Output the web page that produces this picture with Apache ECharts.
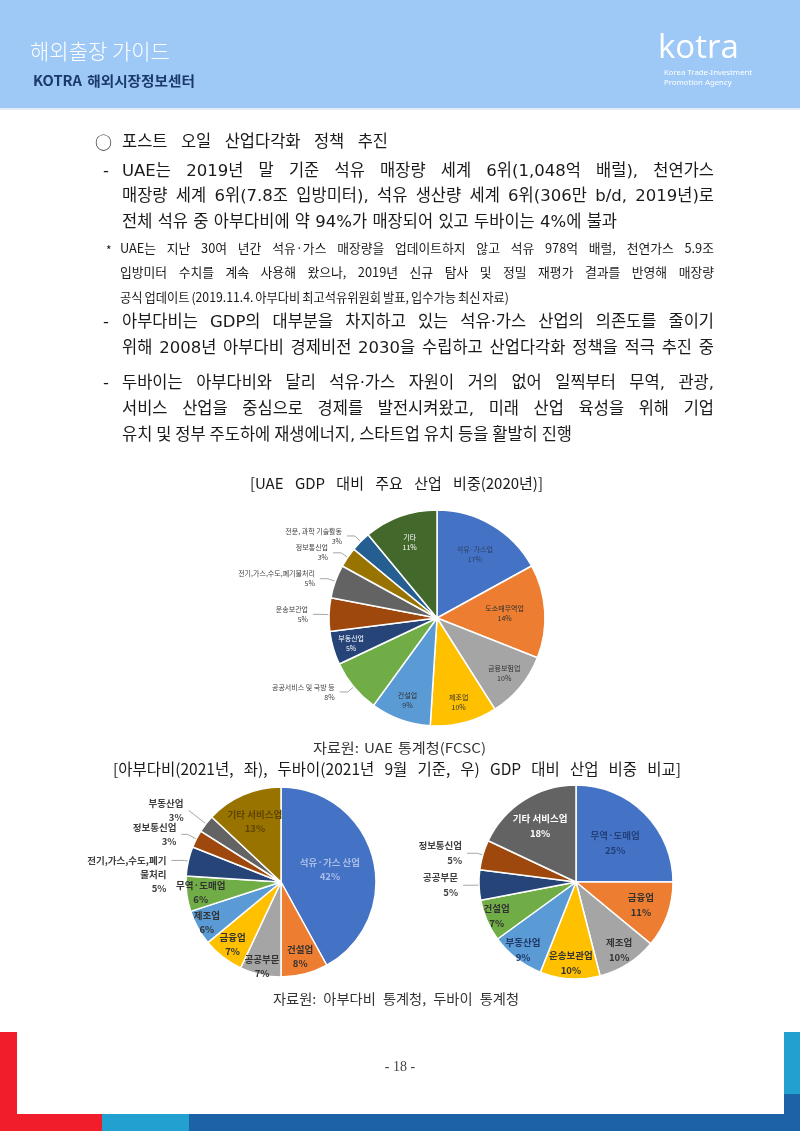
<!DOCTYPE html>
<html><head><meta charset="utf-8">
<script src="https://cdn.jsdelivr.net/npm/echarts@6/dist/echarts.min.js"></script>
<style>html,body{margin:0;padding:0;background:#fff}#c{width:800px;height:1131px}</style>
</head><body><div id="c"></div>
<script>
// ---------- data ----------
const uaeCategories = ['석유·가스업','도소매무역업','금융보험업','제조업','건설업','공공서비스 및 국방 등','부동산업','운송보관업','전기,가스,수도,폐기물처리','정보통신업','전문, 과학 기술활동','기타'];
const uaeShares = [17,14,10,10,9,8,5,5,5,3,3,11];
const abuCategories = ['석유·가스 산업','건설업','공공부문','금융업','제조업','무역·도매업','전기,가스,수도,폐기물처리','정보통신업','부동산업','기타 서비스업'];
const abuShares = [42,8,7,7,6,6,5,3,3,13];
const dubaiCategories = ['무역·도매업','금융업','제조업','운송보관업','부동산업','건설업','공공부문','정보통신업','기타 서비스업'];
const dubaiShares = [25,11,10,10,9,7,5,5,18];

const bodyLines = [
  '포스트 오일 산업다각화 정책 추진',
  'UAE는 2019년 말 기준 석유 매장량 세계 6위(1,048억 배럴), 천연가스',
  '매장량 세계 6위(7.8조 입방미터), 석유 생산량 세계 6위(306만 b/d, 2019년)로',
  '전체 석유 중 아부다비에 약 94%가 매장되어 있고 두바이는 4%에 불과',
  'UAE는 지난 30여 년간 석유·가스 매장량을 업데이트하지 않고 석유 978억 배럴, 천연가스 5.9조',
  '입방미터 수치를 계속 사용해 왔으나, 2019년 신규 탐사 및 정밀 재평가 결과를 반영해 매장량',
  '공식 업데이트 (2019.11.4. 아부다비 최고석유위원회 발표, 입수가능 최신 자료)',
  '아부다비는 GDP의 대부분을 차지하고 있는 석유·가스 산업의 의존도를 줄이기',
  '위해 2008년 아부다비 경제비전 2030을 수립하고 산업다각화 정책을 적극 추진 중',
  '두바이는 아부다비와 달리 석유·가스 자원이 거의 없어 일찍부터 무역, 관광,',
  '서비스 산업을 중심으로 경제를 발전시켜왔고, 미래 산업 육성을 위해 기업',
  '유치 및 정부 주도하에 재생에너지, 스타트업 유치 등을 활발히 진행'
];
const title1 = '[UAE GDP 대비 주요 산업 비중(2020년)]';
const source1 = '자료원: UAE 통계청(FCSC)';
const title2 = '[아부다비(2021년, 좌), 두바이(2021년 9월 기준, 우) GDP 대비 산업 비중 비교]';
const source2 = '자료원: 아부다비 통계청, 두바이 통계청';

// ---------- layout / style ----------
const FF = '"Noto Sans CJK KR","Noto Sans",sans-serif';
const FB = '"DejaVu Sans","Noto Sans CJK KR",sans-serif';
const officeColors = ['#4472C4','#ED7D31','#A5A5A5','#FFC000','#5B9BD5','#70AD47','#264478','#9E480E','#636363','#997300','#255E91','#43682B'];
const mctx = document.createElement('canvas').getContext('2d');
function fontOf(size, opts){ return (opts.weight||'normal') + ' ' + size + 'px ' + (opts.family||FF); }
function measure(t, font){ mctx.font = font; return mctx.measureText(t).width; }
const graphics = [];
function txt(t, x, y, size, opts, sx){
  opts = opts || {};
  graphics.push({type:'text', x:x, y:y, scaleX:sx||1, silent:true, z:10,
    style:{text:t, font:fontOf(size,opts), fill:opts.color||'#1a1a1a', textAlign:opts.align||'left', textVerticalAlign:'middle'}});
}
function fit(t, x0, x1, y, size, opts){
  opts = opts || {};
  const font = fontOf(size, opts);
  const words = t.split(' ');
  const ws = words.map(w => measure(w, font));
  const sum = ws.reduce((a,b)=>a+b,0);
  const sp = measure(' ', font);
  const n = words.length;
  const minG = sp*(opts.minG||0.7), maxG = sp*(opts.maxG||4);
  let gap = n > 1 ? (x1 - x0 - sum)/(n-1) : 0, s = 1;
  if (n > 1 && gap < minG) { gap = minG; s = (x1-x0)/(sum + gap*(n-1)); }
  else if (n > 1 && gap > maxG) { gap = maxG; s = (x1-x0)/(sum + gap*(n-1)); }
  else if (n === 1) { s = (x1-x0)/sum; }
  let x = x0;
  words.forEach((w,i) => { txt(w, x, y, size, opts, s); x += (ws[i] + gap)*s; });
}
function rect(x,y,w,h,color){ graphics.push({type:'rect', silent:true, z:1, shape:{x:x,y:y,width:w,height:h}, style:{fill:color}}); }

// header
rect(0,0,800,108,'#9EC9F7');
rect(0,108,800,2,'#E3ECF5');
txt('해외출장 가이드', 30, 51, 21, {color:'#ffffff', weight:'300'});
fit('KOTRA 해외시장정보센터', 33, 195, 81, 14, {color:'#1B3A6B', weight:'bold', maxG:1.6});
txt('kotra', 658, 49, 33, {color:'#ffffff', family:'"Open Sans","Noto Sans",sans-serif'});
txt('Korea Trade-Investment', 664, 73, 7.8, {color:'#ffffff', family:'"Noto Sans",sans-serif'});
txt('Promotion Agency', 664, 83, 7.8, {color:'#ffffff', family:'"Noto Sans",sans-serif'});

// body text
const BS = 16.5, NS = 12.8;
const bo = {family:FB}, no = {family:FF};
txt('○', 95, 143, 17);
fit(bodyLines[0], 122, 388, 143, BS, bo);
txt('-', 103, 172, BS, bo);
fit(bodyLines[1], 122, 714, 172, BS, bo);
fit(bodyLines[2], 122, 714, 197, BS, bo);
fit(bodyLines[3], 122, 617, 223, BS, bo);
txt('*', 106, 250, 12);
fit(bodyLines[4], 120, 714, 248, NS, no);
fit(bodyLines[5], 120, 714, 272, NS, no);
fit(bodyLines[6], 120, 509, 297, NS, no);
txt('-', 103, 323, BS, bo);
fit(bodyLines[7], 122, 714, 323, BS, bo);
fit(bodyLines[8], 122, 714, 349, BS, bo);
txt('-', 103, 384, BS, bo);
fit(bodyLines[9], 122, 714, 384, BS, bo);
fit(bodyLines[10], 122, 714, 410, BS, bo);
fit(bodyLines[11], 122, 572, 436, BS, bo);

// captions
fit(title1, 250, 543, 483, 15);
fit(source1, 313, 486, 748, 13.5, {color:'#333', maxG:1.5});
fit(title2, 113, 681, 769, 15.5);
fit(source2, 273, 519, 999, 13.5, {color:'#333', maxG:2.2});

// footer
txt('- 18 -', 400, 1067, 14, {align:'center', color:'#444', family:'"Liberation Serif","DejaVu Serif",serif'});
rect(0,1032,17,99,'#F21D2B');
rect(0,1114,102,17,'#F21D2B');
rect(102,1114,87,17,'#22A0D0');
rect(189,1114,611,17,'#1B63A6');
rect(784,1032,16,62,'#22A0D0');
rect(784,1094,16,37,'#1B63A6');

// ---------- pies ----------
// label text shown for a category (line breaks; leading blank lines drop the text below its leader line)
const displayNames = {'전기,가스,수도,폐기물처리@abu':'\n\n전기,가스,수도,폐기\n물처리'};
function buildPie(key, cats, vals, center, r, labelSpec, labelColors, font, lineLens){
  const series = [];
  lineLens = lineLens || {};
  const fmt = p => (displayNames[p.name+'@'+key] || p.name) + '\n' + p.value + '%';
  series.push({
    type:'pie', center:center, radius:[0,r], startAngle:90, clockwise:true,
    avoidLabelOverlap:false, silent:true, animation:false,
    label:{position:'outside', formatter:fmt, fontSize:font.size, fontFamily:FF, fontWeight:font.weight, color:'#404040', lineHeight:font.lh, align:'center'},
    labelLine:{length:font.l1, length2:font.l2, lineStyle:{color:'#a6a6a6', width:1}},
    labelLayout:{hideOverlap:false},
    data:cats.map((c,i) => {
      const out = labelSpec[c] === 'out';
      const ll = {show:out};
      if (lineLens[c]) { ll.length = lineLens[c][0]; ll.length2 = lineLens[c][1]; }
      return {name:c, value:vals[i], itemStyle:{color:officeColors[i], borderColor:'#ffffff', borderWidth:1.5}, label:{show:out}, labelLine:ll};
    })
  });
  // one transparent ring per inside label, so each label sits at the chosen fraction of the radius
  cats.forEach((c,i) => {
    const f = labelSpec[c];
    if (f === 'out') return;
    series.push({
      type:'pie', center:center, radius:[0, r*2*f], startAngle:90, clockwise:true,
      avoidLabelOverlap:false, silent:true, animation:false, z:5,
      labelLayout:{hideOverlap:false},
      label:{position:'inside', formatter:fmt, fontSize:font.size, fontFamily:FF, fontWeight:font.weight, lineHeight:font.lh},
      labelLine:{show:false},
      data:cats.map((c2,j) => ({name:c2, value:vals[j], itemStyle:{color:'rgba(0,0,0,0)', borderWidth:0},
        label:{show:j===i, color:labelColors[c2]||'#333333'}}))
    });
  });
  return series;
}

const uaeLabelSpec = {'석유·가스업':0.66,'도소매무역업':0.6,'금융보험업':0.78,'제조업':0.78,'건설업':0.78,'공공서비스 및 국방 등':'out','부동산업':0.8,'운송보관업':'out','전기,가스,수도,폐기물처리':'out','정보통신업':'out','전문, 과학 기술활동':'out','기타':0.72};
const uaeLabelColors = {'석유·가스업':'#2F3F66','부동산업':'#ffffff','기타':'#ffffff'};
const abuLabelSpec = {'석유·가스 산업':0.5,'건설업':0.78,'공공부문':0.88,'금융업':0.8,'제조업':0.86,'무역·도매업':0.82,'전기,가스,수도,폐기물처리':'out','정보통신업':'out','부동산업':'out','기타 서비스업':0.66};
const abuLabelColors = {'석유·가스 산업':'#A9BDE6','기타 서비스업':'#5E4500'};
const abuLineLens = {'부동산업':[22,0],'정보통신업':[10,6],'전기,가스,수도,폐기물처리':[4,13]};
const dubaiLabelSpec = {'무역·도매업':0.54,'금융업':0.68,'제조업':0.8,'운송보관업':0.8,'부동산업':0.86,'건설업':0.86,'공공부문':'out','정보통신업':'out','기타 서비스업':0.66};
const dubaiLabelColors = {'무역·도매업':'#23407A','부동산업':'#1F3864','기타 서비스업':'#ffffff'};

const series = [].concat(
  buildPie('uae', uaeCategories, uaeShares, [437,618], 108, uaeLabelSpec, uaeLabelColors, {size:7, weight:'normal', lh:10, l1:8, l2:8}),
  buildPie('abu', abuCategories, abuShares, [281,882], 95, abuLabelSpec, abuLabelColors, {size:9.5, weight:'bold', lh:14, l1:6, l2:10}, abuLineLens),
  buildPie('dubai', dubaiCategories, dubaiShares, [576,882], 97, dubaiLabelSpec, dubaiLabelColors, {size:9.5, weight:'bold', lh:15, l1:6, l2:10})
);

const chart = echarts.init(document.getElementById('c'), null, {renderer:'canvas', width:800, height:1131});
chart.setOption({backgroundColor:'#ffffff', animation:false, graphic:{elements:graphics}, series:series});
</script></body></html>
